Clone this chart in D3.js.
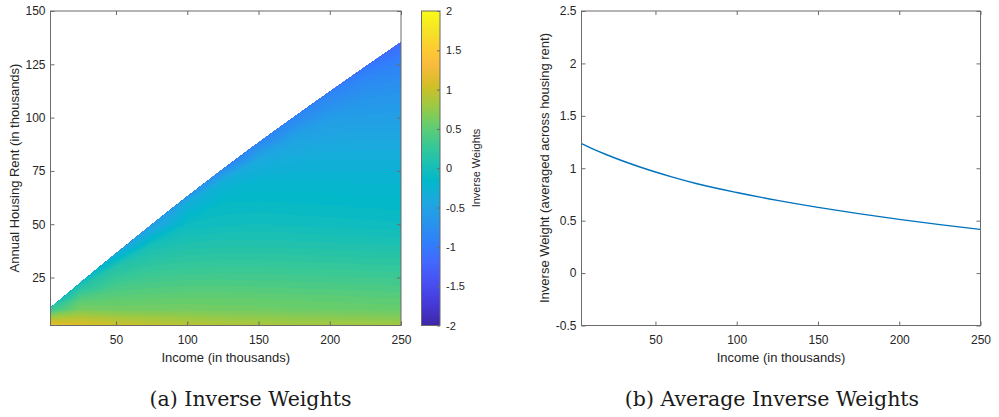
<!DOCTYPE html>
<html>
<head>
<meta charset="utf-8">
<script src="https://cdn.jsdelivr.net/npm/d3@7"></script>
<style>
  body { margin: 0; background: #fff; }
  svg text { font-family: "Liberation Sans", Arial, sans-serif; fill: #262626; }
  .caption { font-family: "DejaVu Serif", serif; fill: #1a1a1a; }
</style>
</head>
<body>
<svg id="fig" width="999" height="417"></svg>
<script>
// ---- data ----
// inverse weight surface, one column per income, one entry per rent
const incomeGrid = [0, 25, 50, 75, 100, 125, 150, 175, 200, 225, 250];
const rentGrid = [0, 5, 10, 15, 20, 30, 40, 50, 60, 70, 80, 90, 100, 110, 120, 130, 140, 150];
const weightCols = [
  [1.50, 1.00, 0.25, -0.30, -0.75, -1.30, -1.70, -2, -2, -2, -2, -2, -2, -2, -2, -2, -2, -2],
  [1.32, 1.00, 0.66, 0.48, 0.20, -0.55, -1.20, -1.70, -2, -2, -2, -2, -2, -2, -2, -2, -2, -2],
  [1.22, 0.93, 0.64, 0.53, 0.42, 0.15, -0.60, -1.25, -1.80, -2, -2, -2, -2, -2, -2, -2, -2, -2],
  [1.14, 0.88, 0.64, 0.55, 0.45, 0.26, 0.06, -0.55, -1.30, -1.90, -2, -2, -2, -2, -2, -2, -2, -2],
  [1.09, 0.85, 0.64, 0.56, 0.47, 0.29, 0.12, -0.04, -0.32, -1.20, -1.90, -2, -2, -2, -2, -2, -2, -2],
  [1.05, 0.82, 0.63, 0.56, 0.47, 0.30, 0.14, -0.01, -0.10, -0.30, -1.05, -1.80, -2, -2, -2, -2, -2, -2],
  [1.01, 0.80, 0.62, 0.55, 0.46, 0.30, 0.14, 0.00, -0.09, -0.20, -0.38, -0.90, -1.70, -2, -2, -2, -2, -2],
  [0.98, 0.78, 0.61, 0.54, 0.45, 0.29, 0.13, -0.01, -0.10, -0.20, -0.31, -0.47, -0.82, -1.40, -2, -2, -2, -2],
  [0.96, 0.77, 0.60, 0.53, 0.44, 0.28, 0.12, -0.02, -0.11, -0.20, -0.30, -0.42, -0.56, -0.80, -1.30, -2, -2, -2],
  [0.95, 0.76, 0.59, 0.52, 0.43, 0.27, 0.11, -0.03, -0.12, -0.21, -0.30, -0.41, -0.53, -0.67, -0.86, -1.25, -2, -2],
  [0.94, 0.75, 0.58, 0.51, 0.42, 0.26, 0.10, -0.04, -0.13, -0.21, -0.30, -0.41, -0.52, -0.63, -0.78, -0.97, -1.30, -2]
];
// upper edge of the feasible (income, rent) region
const edgeIncome = [4, 25, 50, 75, 100, 125, 150, 175, 200, 225, 250];
const edgeRent = [10.8, 22.6, 36.3, 49.7, 63, 75.8, 88.2, 100.3, 112.1, 123.8, 135.3];

// average inverse weight by income
const avgIncome = [4.5, 10, 20, 30, 40, 50, 60, 75, 100, 125, 150, 175, 200, 225, 250];
const avgWeight = [1.235, 1.195, 1.129, 1.069, 1.014, 0.964, 0.918, 0.855, 0.769, 0.694, 0.627, 0.567, 0.512, 0.462, 0.416];

const incomeTicks = [50, 100, 150, 200, 250];
const rentTicks = [25, 50, 75, 100, 125, 150];
const cbarTicks = [-2, -1.5, -1, -0.5, 0, 0.5, 1, 1.5, 2];
const avgTicks = [-0.5, 0, 0.5, 1, 1.5, 2, 2.5];

// parula colormap stops
const parulaPos = [0, 0.079, 0.143, 0.206, 0.254, 0.333, 0.397, 0.460, 0.508, 0.571, 0.635, 0.698, 0.762, 0.825, 0.873, 0.937, 1];
const parulaHex = ["#3e26a8", "#463cde", "#4852f4", "#4269fe", "#327cfc", "#2796eb", "#1ca9df", "#01b8ca",
  "#19bfb6", "#37c897", "#64cd6f", "#9dc943", "#d1bf27", "#f8ba3d", "#fec934", "#f5e327", "#f9fb15"];

const svg = d3.select("#fig");
const axisGrey = "#6b6b6b";

const color = d3.scaleLinear()
  .domain(parulaPos.map(t => -2 + 4 * t))
  .range(parulaHex)
  .clamp(true);

// ---------- panel (a) ----------
const xL = d3.scaleLinear().domain([4, 250]).range([50.5, 401]);
const yL = d3.scaleLinear().domain([2.5, 150]).range([325.5, 11]);

const nx = incomeGrid.length, ny = rentGrid.length;
const values = [];
for (let j = 0; j < ny; j++) {
  for (let i = 0; i < nx; i++) values.push(weightCols[i][j]);
}
const levels = d3.range(-2, 2.001, 0.05);
const bands = d3.contours().size([nx, ny]).thresholds(levels)(values);

const gx = d3.scaleLinear().domain(incomeGrid.map((d, i) => i + 0.5)).range(incomeGrid);
const gy = d3.scaleLinear().domain(rentGrid.map((d, j) => j + 0.5)).range(rentGrid);
const gridPath = d3.geoPath(d3.geoTransform({
  point(px, py) { this.stream.point(xL(gx(px)), yL(gy(py))); }
}));

const edgeLine = d3.line().x(d => xL(d[0])).y(d => yL(d[1])).curve(d3.curveMonotoneX);
const edgePts = edgeIncome.map((d, i) => [d, edgeRent[i]]);
svg.append("defs").append("clipPath").attr("id", "feasible")
  .append("path")
  .attr("d", edgeLine(edgePts) + `L${xL(250)},${yL(2.5)}L${xL(4)},${yL(2.5)}Z`);

svg.append("g").attr("clip-path", "url(#feasible)")
  .selectAll("path")
  .data(bands)
  .enter()
  .append("path")
  .attr("d", gridPath)
  .attr("fill", d => color(d.value));

function drawBox(g, x, y, xt, yt, yFmt) {
  const [x0, x1] = x.range(), [y0, y1] = y.range();
  g.append("g").attr("transform", `translate(0,${y0})`)
    .call(d3.axisBottom(x).tickValues(xt).tickSizeInner(-4).tickSizeOuter(0).tickPadding(10));
  g.append("g").attr("transform", `translate(0,${y1})`)
    .call(d3.axisTop(x).tickValues(xt).tickSizeInner(-4).tickSizeOuter(0).tickFormat(""));
  g.append("g").attr("transform", `translate(${x0},0)`)
    .call(d3.axisLeft(y).tickValues(yt).tickSizeInner(-4).tickSizeOuter(0).tickPadding(5).tickFormat(yFmt));
  g.append("g").attr("transform", `translate(${x1},0)`)
    .call(d3.axisRight(y).tickValues(yt).tickSizeInner(-4).tickSizeOuter(0).tickFormat(""));
  g.selectAll(".domain").remove();
  g.selectAll(".tick line").attr("stroke", axisGrey);
  g.selectAll(".tick text").attr("font-size", 12).attr("font-family", null).attr("fill", "#262626");
  g.append("rect")
    .attr("x", x0).attr("y", y1)
    .attr("width", x1 - x0).attr("height", y0 - y1)
    .attr("fill", "none").attr("stroke", axisGrey);
}

const gA = svg.append("g");
drawBox(gA, xL, yL, incomeTicks, rentTicks, d => String(d));
gA.append("text")
  .attr("x", (50.5 + 401) / 2).attr("y", 362)
  .attr("text-anchor", "middle").attr("font-size", 13)
  .text("Income (in thousands)");
gA.append("text")
  .attr("transform", "translate(14.5,168) rotate(-90)")
  .attr("text-anchor", "middle").attr("dy", "0.35em").attr("font-size", 13)
  .text("Annual Housing Rent (in thousands)");

// colorbar
const cb = svg.append("g");
const yC = d3.scaleLinear().domain([-2, 2]).range([325.5, 11]);
const grad = svg.select("defs").append("linearGradient")
  .attr("id", "parula").attr("x1", 0).attr("y1", 1).attr("x2", 0).attr("y2", 0);
grad.selectAll("stop").data(parulaPos).enter().append("stop")
  .attr("offset", d => d)
  .attr("stop-color", (d, i) => parulaHex[i]);
cb.append("rect")
  .attr("x", 421.5).attr("y", 11).attr("width", 18.5).attr("height", 314.5)
  .attr("fill", "url(#parula)").attr("stroke", axisGrey);
cb.append("g").attr("transform", "translate(440,0)")
  .call(d3.axisRight(yC).tickValues(cbarTicks).tickSizeInner(-3).tickSizeOuter(0).tickPadding(6)
    .tickFormat(d => String(d)))
  .call(g => g.select(".domain").remove())
  .call(g => g.selectAll(".tick line").attr("stroke", axisGrey))
  .call(g => g.selectAll(".tick text").attr("font-size", 11).attr("font-family", null).attr("fill", "#262626"));
cb.append("text")
  .attr("transform", "translate(476,168) rotate(-90)")
  .attr("text-anchor", "middle").attr("dy", "0.35em").attr("font-size", 11)
  .text("Inverse Weights");

// ---------- panel (b) ----------
const xR = d3.scaleLinear().domain([4.5, 250]).range([581.5, 980.5]);
const yR = d3.scaleLinear().domain([-0.5, 2.5]).range([325.5, 11]);
const gB = svg.append("g");

gB.append("path")
  .datum(avgIncome.map((d, i) => [d, avgWeight[i]]))
  .attr("fill", "none")
  .attr("stroke", "#0072bd")
  .attr("stroke-width", 1.4)
  .attr("d", d3.line().x(d => xR(d[0])).y(d => yR(d[1])).curve(d3.curveMonotoneX));

drawBox(gB, xR, yR, incomeTicks, avgTicks, d => String(d));
gB.append("text")
  .attr("x", (581.5 + 980.5) / 2).attr("y", 362)
  .attr("text-anchor", "middle").attr("font-size", 13)
  .text("Income (in thousands)");
gB.append("text")
  .attr("transform", "translate(544,168) rotate(-90)")
  .attr("text-anchor", "middle").attr("dy", "0.35em").attr("font-size", 13)
  .text("Inverse Weight (averaged across housing rent)");

// captions
svg.append("text").attr("class", "caption")
  .attr("x", 250.5).attr("y", 406).attr("text-anchor", "middle").attr("font-size", 20.5)
  .text("(a) Inverse Weights");
svg.append("text").attr("class", "caption")
  .attr("x", 772).attr("y", 406).attr("text-anchor", "middle").attr("font-size", 20.5)
  .text("(b) Average Inverse Weights");
</script>
</body>
</html>
